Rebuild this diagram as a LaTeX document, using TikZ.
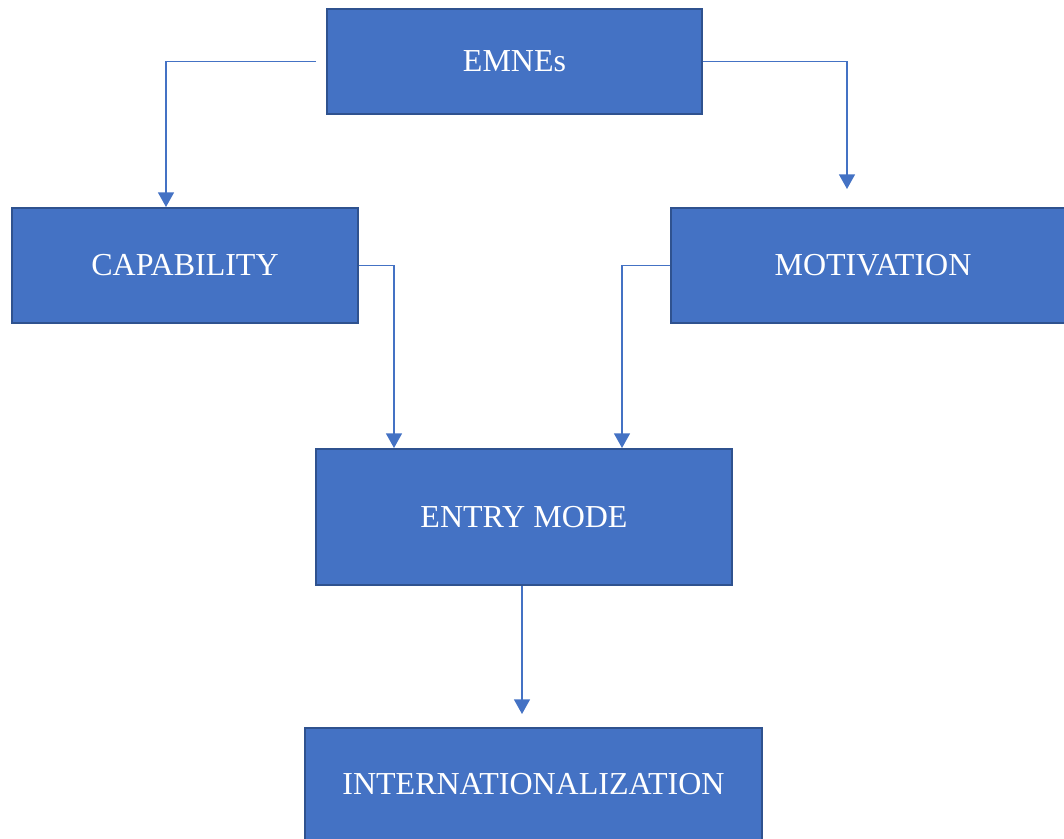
\documentclass[tikz,border=0pt]{standalone}
\usepackage{fontspec}
\setmainfont{Liberation Serif}
\usetikzlibrary{arrows.meta,calc}
\definecolor{boxfill}{HTML}{4472C4}
\definecolor{boxedge}{HTML}{2F528F}
\definecolor{linkblue}{HTML}{4472C4}
\tikzset{
  box/.style={rectangle, draw=boxedge, fill=boxfill, line width=1.5pt,
    text=white, font=\fontsize{24}{28}\selectfont, inner sep=0pt},
  conn/.style={draw=linkblue, line width=1.1pt,
    -{Triangle[width=12pt,length=11pt]}}
}
\begin{document}
\begin{tikzpicture}[x=0.75pt,y=-0.75pt]
\clip (0,0) rectangle (1064,839);
\useasboundingbox (0,0) rectangle (1064,839);

\node[box, minimum width=281.25pt, minimum height=78.75pt] (emnes) at (514.5,61.5) {EMNEs};
\node[box, minimum width=259.5pt, minimum height=86.25pt] (cap) at (185,265.5) {CAPABILITY};
\node[box, minimum width=303pt, minimum height=86.25pt] (mot) at (873,265.5) {MOTIVATION};
\node[box, minimum width=312pt, minimum height=102pt] (entry) at (524,517) {ENTRY MODE};
\node[box, minimum width=342.75pt, minimum height=84pt] (intl) at (533.5,784) {INTERNATIONALIZATION};

% links from the top box to the two drivers
\draw[conn, shorten <=7.5pt] (emnes.west) -| ($(cap.north west)+(155,0)$);
\draw[conn, shorten >=13.5pt] (emnes.east) -| ($(mot.north west)+(177,0)$);

% drivers feed the entry mode
\draw[conn] (cap.east) -| ($(entry.north west)+(79,0)$);
\draw[conn] (mot.west) -| ($(entry.north west)+(307,0)$);

% entry mode leads to internationalization
\coordinate (entryout) at ($(entry.south)+(-2,0)$);
\draw[conn, shorten >=9.75pt] (entryout) -- (entryout |- intl.north);
\end{tikzpicture}
\end{document}
